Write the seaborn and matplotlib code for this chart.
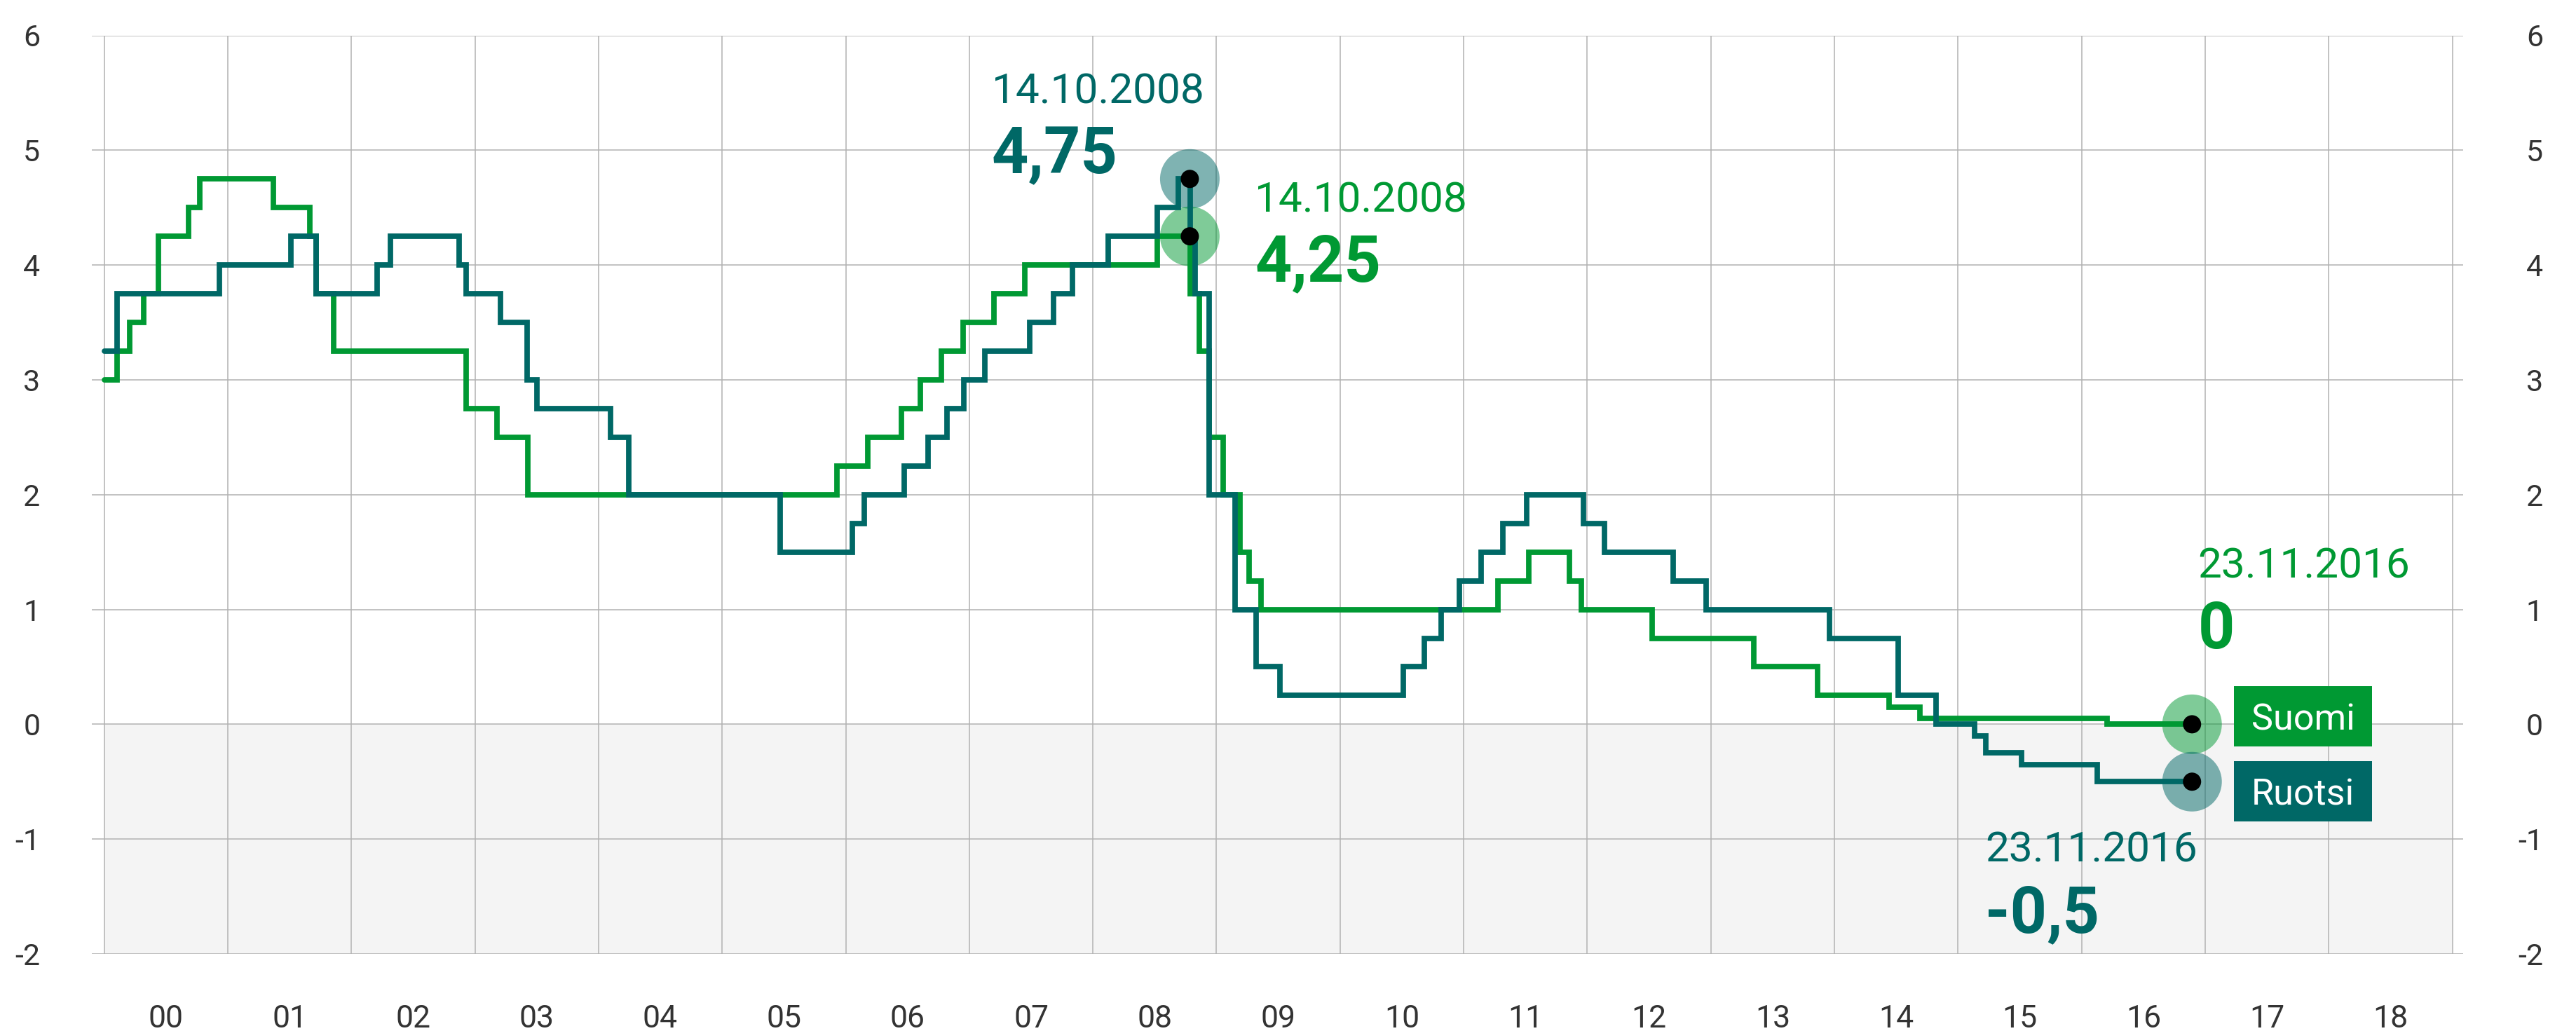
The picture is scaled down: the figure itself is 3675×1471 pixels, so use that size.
import numpy as np
import pandas as pd
import matplotlib
matplotlib.use("Agg")
import matplotlib.pyplot as plt
from matplotlib.patches import Rectangle
import seaborn as sns

# Policy rate changes (effective dates) -----------------------------------
suomi_dates = [
    "2000-01-01", "2000-02-09", "2000-03-17", "2000-04-28", "2000-06-09",
    "2000-09-06", "2000-10-11", "2001-05-15", "2001-08-31", "2001-09-18",
    "2001-11-09", "2002-12-06", "2003-03-07", "2003-06-06", "2005-12-06",
    "2006-03-08", "2006-06-15", "2006-08-09", "2006-10-11", "2006-12-13",
    "2007-03-14", "2007-06-13", "2008-07-09", "2008-10-15", "2008-11-12",
    "2008-12-10", "2009-01-21", "2009-03-11", "2009-04-08", "2009-05-13",
    "2011-04-13", "2011-07-13", "2011-11-09", "2011-12-14", "2012-07-11",
    "2013-05-08", "2013-11-13", "2014-06-11", "2014-09-10", "2016-03-16",
]
suomi_rates = [
    3.00, 3.25, 3.50, 3.75, 4.25,
    4.50, 4.75, 4.50, 4.25, 3.75,
    3.25, 2.75, 2.50, 2.00, 2.25,
    2.50, 2.75, 3.00, 3.25, 3.50,
    3.75, 4.00, 4.25, 3.75, 3.25,
    2.50, 2.00, 1.50, 1.25, 1.00,
    1.25, 1.50, 1.25, 1.00, 0.75,
    0.50, 0.25, 0.15, 0.05, 0.00,
]

ruotsi_dates = [
    "2000-01-01", "2000-02-09", "2000-12-08", "2001-07-06", "2001-09-19",
    "2002-03-19", "2002-04-26", "2002-11-15", "2002-12-05", "2003-03-17",
    "2003-06-05", "2003-07-04", "2004-02-06", "2004-03-31", "2005-06-21",
    "2006-01-20", "2006-02-24", "2006-06-23", "2006-09-01", "2006-10-27",
    "2006-12-15", "2007-02-16", "2007-06-29", "2007-09-07", "2007-11-02",
    "2008-02-15", "2008-07-09", "2008-09-10", "2008-10-15", "2008-10-29",
    "2008-12-10", "2009-02-25", "2009-04-29", "2009-07-08", "2010-07-07",
    "2010-09-07", "2010-10-27", "2010-12-20", "2011-02-22", "2011-04-27",
    "2011-07-06", "2011-12-21", "2012-02-22", "2012-09-12", "2012-12-19",
    "2013-12-18", "2014-07-09", "2014-10-29", "2015-02-18", "2015-03-25",
    "2015-07-08", "2016-02-17",
]
ruotsi_rates = [
    3.25, 3.75, 4.00, 4.25, 3.75,
    4.00, 4.25, 4.00, 3.75, 3.50,
    3.00, 2.75, 2.50, 2.00, 1.50,
    1.75, 2.00, 2.25, 2.50, 2.75,
    3.00, 3.25, 3.50, 3.75, 4.00,
    4.25, 4.50, 4.75, 4.25, 3.75,
    2.00, 1.00, 0.50, 0.25, 0.50,
    0.75, 1.00, 1.25, 1.50, 1.75,
    2.00, 1.75, 1.50, 1.25, 1.00,
    0.75, 0.25, 0.00, -0.10, -0.25,
    -0.35, -0.50,
]

end_date = "2016-11-23"
peak_date = "2008-10-14"
series_names = ["Suomi", "Ruotsi"]
year_labels = ["00", "01", "02", "03", "04", "05", "06", "07", "08", "09",
               "10", "11", "12", "13", "14", "15", "16", "17", "18"]
y_ticks = [-2, -1, 0, 1, 2, 3, 4, 5, 6]

# Styling ------------------------------------------------------------------
GREEN = "#009933"
TEAL = "#006866"
GRID = "#b2b2b2"
TICK_TXT = "#333333"
SHADE = "#f4f4f4"
palette = {"Suomi": GREEN, "Ruotsi": TEAL}


def decimal_year(dates):
    d = pd.to_datetime(pd.Series(dates))
    days = np.where(d.dt.is_leap_year, 366, 365)
    return (d.dt.year + (d.dt.dayofyear - 1) / days).to_numpy(dtype=float)


def rate_on(dates, rates, when):
    t = decimal_year(dates)
    w = decimal_year([when])[0]
    idx = np.searchsorted(t, w, side="right") - 1
    return rates[idx]


def fmt(v):
    return f"{v:g}".replace(".", ",")


frames = []
for name, dates, rates in [("Suomi", suomi_dates, suomi_rates),
                           ("Ruotsi", ruotsi_dates, ruotsi_rates)]:
    t = np.append(decimal_year(dates), decimal_year([end_date])[0])
    r = list(rates) + [rates[-1]]
    frames.append(pd.DataFrame({"t": t, "rate": r, "maa": name}))
df = pd.concat(frames, ignore_index=True)

sns.set_style("white")
plt.rcParams["font.family"] = ["Roboto", "DejaVu Sans"]

W, H = 3675, 1471
fig = plt.figure(figsize=(W / 100, H / 100), dpi=100)
ax = fig.add_axes([131 / W, 1 - 1361 / H, (3514 - 131) / W, (1361 - 50.5) / H])

x0, x1 = 2000, 2019
ax.set_xlim(1999.90, 2019.087)
ax.set_ylim(-2, 6)

# negative-rate zone
ax.fill_between([x0, x1], -2, 0, color=SHADE, zorder=0.2, lw=0)

# step lines
sns.lineplot(data=df, x="t", y="rate", hue="maa", hue_order=series_names,
             palette=palette, drawstyle="steps-post", estimator=None,
             sort=False, legend=False, lw=5.6, ax=ax, zorder=3,
             solid_joinstyle="miter")

# axes, ticks and grid
ax.set_xlabel("")
ax.set_ylabel("")
for s in ax.spines.values():
    s.set_visible(False)
ax.set_xticks(np.arange(x0, x1 + 1))
ax.set_xticklabels([])
ax.set_xticks(np.arange(x0, x1) + 0.5, minor=True)
ax.set_xticklabels(year_labels, minor=True)
ax.set_yticks(y_ticks)
ax.set_yticklabels([str(v) for v in y_ticks])
ax.tick_params(axis="x", which="both", length=0, pad=52,
               labelsize=32, labelcolor=TICK_TXT)
ax.tick_params(axis="y", length=0, pad=53, labelsize=31, labelcolor=TICK_TXT)
for lbl in ax.get_yticklabels():
    lbl.set_horizontalalignment("right")
ax.set_axisbelow(True)
ax.grid(True, axis="y", which="major", color=GRID, lw=1.1)
ax.grid(True, axis="x", which="major", color=GRID, lw=1.1)
ax.grid(False, axis="x", which="minor")

ax2 = ax.twinx()
ax2.set_ylim(-2, 6)
ax2.set_yticks(y_ticks)
ax2.set_yticklabels([str(v) for v in y_ticks])
ax2.tick_params(axis="y", length=0, pad=82, labelsize=31, labelcolor=TICK_TXT)
for lbl in ax2.get_yticklabels():
    lbl.set_horizontalalignment("right")
for s in ax2.spines.values():
    s.set_visible(False)
ax2.grid(False)

# highlighted points
t_peak = decimal_year([peak_date])[0]
t_end = decimal_year([end_date])[0]
points = [
    ("Ruotsi", t_peak, rate_on(ruotsi_dates, ruotsi_rates, peak_date)),
    ("Suomi", t_peak, rate_on(suomi_dates, suomi_rates, peak_date)),
    ("Suomi", t_end, rate_on(suomi_dates, suomi_rates, end_date)),
    ("Ruotsi", t_end, rate_on(ruotsi_dates, ruotsi_rates, end_date)),
]
for name, t, v in points:
    ax.scatter([t], [v], s=3745, color=palette[name], alpha=0.5,
               edgecolors="none", zorder=2.5)
    ax.scatter([t], [v], s=350, color="black", edgecolors="none", zorder=4)

# value annotations
ann = [
    (TEAL, 2007.18, 5.41, 4.80, peak_date, points[0][2]),
    (GREEN, 2009.31, 4.464, 3.859, peak_date, points[1][2]),
    (GREEN, 2016.94, 1.275, 0.664, end_date, points[2][2]),
    (TEAL, 2015.22, -1.20, -1.81, end_date, points[3][2]),
]
for col, tx, y_date, y_val, d, v in ann:
    date_txt = pd.Timestamp(d).strftime("%d.%m.%Y")
    ax.text(tx, y_date, date_txt, color=col, fontsize=43.5,
            ha="left", va="baseline", zorder=5)
    ax.text(tx, y_val, fmt(v), color=col, fontsize=66, fontweight="bold",
            ha="left", va="baseline", zorder=5)

# series name boxes
box_x0, box_x1 = 2017.235, 2018.347
boxes = [("Suomi", 0.334, -0.191), ("Ruotsi", -0.320, -0.845)]
for name, top, bot in boxes:
    ax.add_patch(Rectangle((box_x0, bot), box_x1 - box_x0, top - bot,
                           facecolor=palette[name], edgecolor="none",
                           zorder=5, clip_on=False))
    ax.text((box_x0 + box_x1) / 2, (top + bot) / 2, name, color="white",
            fontsize=37.5, ha="center", va="center_baseline", zorder=6)

fig.savefig("out.png", dpi=100, facecolor="white")
